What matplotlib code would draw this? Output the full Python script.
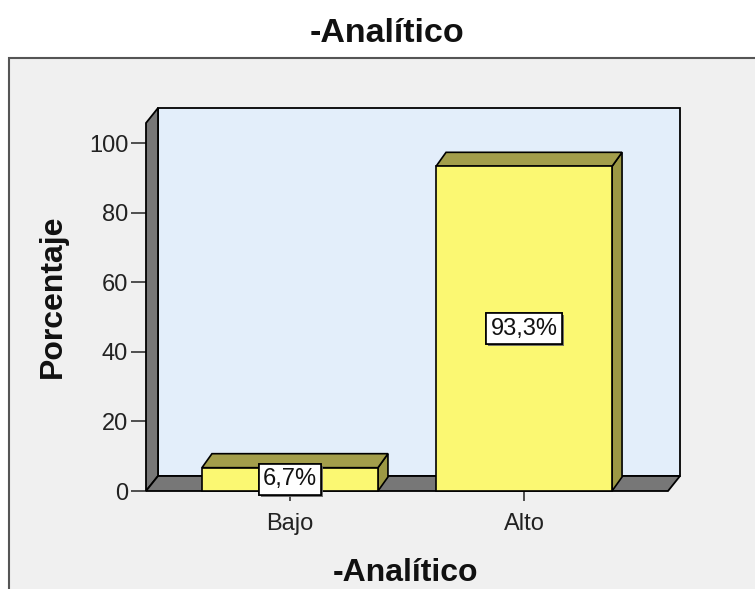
import matplotlib.pyplot as plt
from matplotlib.patches import Polygon, Rectangle
import matplotlib.patheffects as pe

categorias = ["Bajo", "Alto"]
porcentajes = [6.7, 93.3]
etiquetas = ["6,7%", "93,3%"]
yticks = [0, 20, 40, 60, 80, 100]

plt.rcParams['font.family'] = ['Liberation Sans', 'DejaVu Sans']

W, H = 755, 589
fig = plt.figure(figsize=(W / 100, H / 100), dpi=100)
fig.patch.set_facecolor('white')

# marco gris del area del grafico (sale por la derecha y por abajo)
fig.patches.append(Rectangle((9 / W, -0.1), 1.0, (H - 58) / H + 0.1,
                             transform=fig.transFigure, facecolor='#f0f0f0',
                             edgecolor='#555555', lw=1.5, zorder=-5))

ax = fig.add_axes([146 / W, 98 / H, 522 / W, 368 / H])
ax.set_zorder(2)
ax.patch.set_visible(False)
for s in ax.spines.values():
    s.set_visible(False)

xmin, xmax = -0.615, 1.615
ymax = 105.75
ax.set_xlim(xmin, xmax)
ax.set_ylim(0, ymax)

px_x = 522 / (xmax - xmin)
px_y = 368 / ymax
wdx, wdy = 12 / px_x, 15 / px_y   # profundidad de paredes
bdx, bdy = 10 / px_x, 14 / px_y   # profundidad de barras
bw = 176 / px_x

# pared del fondo, pared izquierda y piso
ax.add_patch(Rectangle((xmin + wdx, wdy), xmax - xmin, ymax, facecolor='#e3eefa',
                       edgecolor='black', lw=1.3, clip_on=False, zorder=1))
ax.add_patch(Polygon([(xmin, 0), (xmin, ymax), (xmin + wdx, ymax + wdy), (xmin + wdx, wdy)],
                     closed=True, facecolor='#777777', edgecolor='black', lw=1.3,
                     clip_on=False, zorder=2))
ax.add_patch(Polygon([(xmin, 0), (xmax, 0), (xmax + wdx, wdy), (xmin + wdx, wdy)],
                     closed=True, facecolor='#777777', edgecolor='black', lw=1.3,
                     clip_on=False, zorder=2))

for i, (v, lab) in enumerate(zip(porcentajes, etiquetas)):
    x0, x1 = i - bw / 2, i + bw / 2
    ax.add_patch(Polygon([(x1, 0), (x1, v), (x1 + bdx, v + bdy), (x1 + bdx, bdy)],
                         closed=True, facecolor='#9c9844', edgecolor='black', lw=1.2,
                         clip_on=False, zorder=3))
    ax.add_patch(Polygon([(x0, v), (x1, v), (x1 + bdx, v + bdy), (x0 + bdx, v + bdy)],
                         closed=True, facecolor='#a39e4b', edgecolor='black', lw=1.2,
                         clip_on=False, zorder=3))
    ax.add_patch(Rectangle((x0, 0), bw, v, facecolor='#fbf872', edgecolor='black',
                           lw=1.2, clip_on=False, zorder=4))
    t = ax.text(i, v / 2, lab, ha='center', va='center', fontsize=17, color='#111111',
                zorder=6, bbox=dict(boxstyle='square,pad=0.18', facecolor='white',
                                    edgecolor='black', lw=1.2))
    t.get_bbox_patch().set_path_effects([pe.withSimplePatchShadow(offset=(1.5, -1.5),
                                                                  shadow_rgbFace='#666666',
                                                                  alpha=0.9),
                                         pe.Normal()])

ax.set_yticks(yticks)
ax.set_xticks(range(len(categorias)))
ax.set_xticklabels(categorias)
ax.tick_params(axis='y', length=10.8, width=1.2, color='#333333', labelsize=17,
               labelcolor='#222222', pad=2)
ax.tick_params(axis='x', length=7, width=1.2, color='#333333', labelsize=17,
               labelcolor='#222222', pad=9)

fig.text(387 / W, 1 - 34 / H, '-Analítico', ha='center', va='center',
         fontsize=24.5, fontweight='bold', color='#111111')
fig.text(53 / W, 1 - 296 / H, 'Porcentaje', ha='center', va='center', rotation=90,
         fontsize=23, fontweight='bold', color='#111111')
fig.text(405 / W, 1 - 573 / H, '-Analítico', ha='center', va='center',
         fontsize=23, fontweight='bold', color='#111111')

fig.savefig('out.png', dpi=100)
